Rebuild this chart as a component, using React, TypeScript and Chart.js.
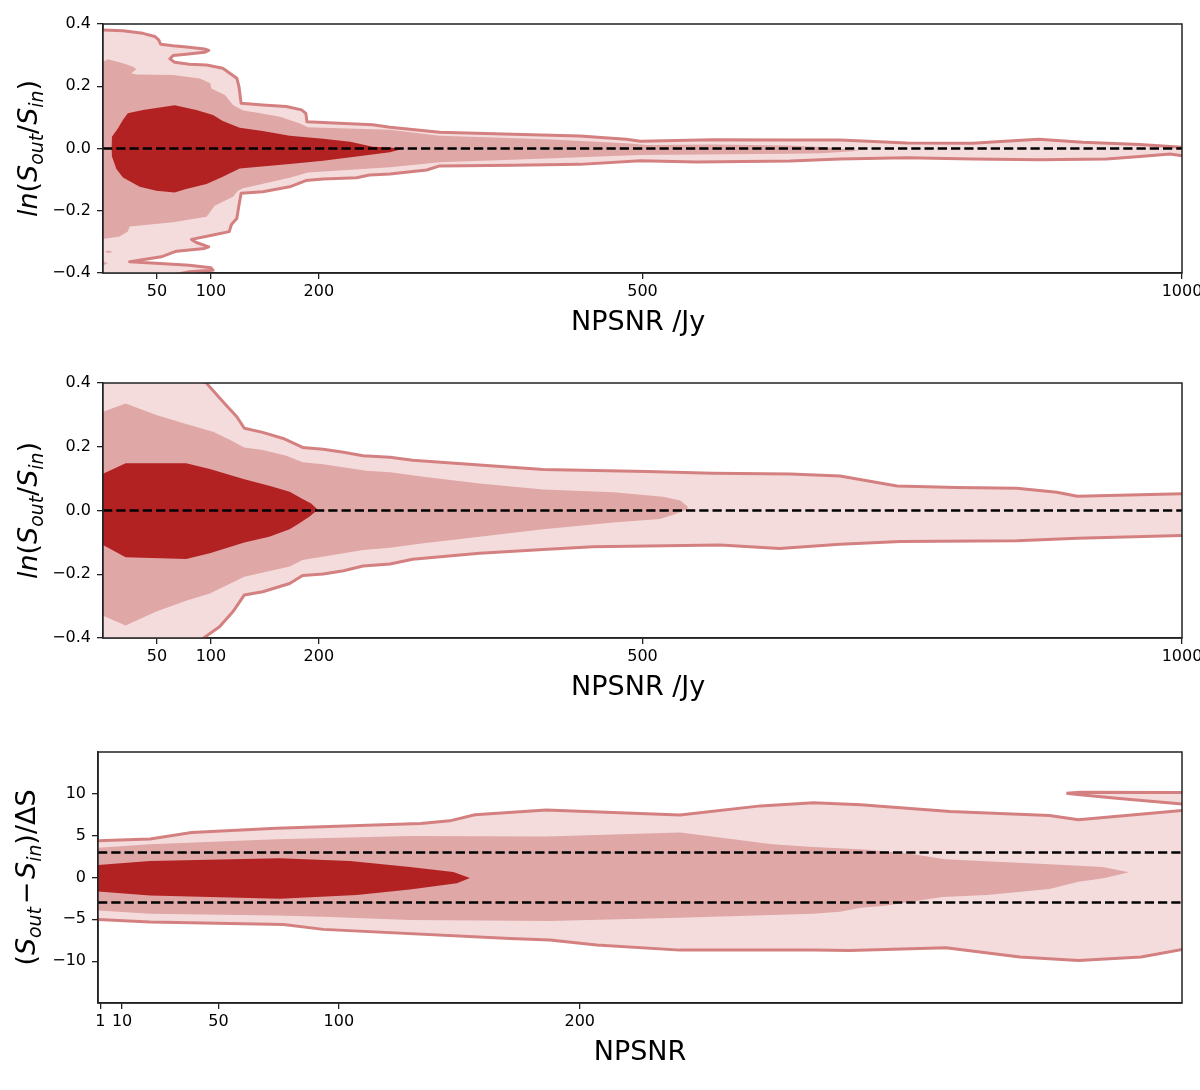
import { useEffect, useRef } from 'react';
import Chart from 'chart.js/auto';

type Pt = [number, number];
type Run = { t: string; sub?: boolean; upright?: boolean };

const FONT = '"DejaVu Sans"';
const PALE = '#f4dcdd';
const MID = '#e0a7a7';
const DARK = '#b22222';
const EDGE = '#d48080';

// top panel, ln(Sout/Sin) vs NPSNR /Jy
const topOuter: Pt[] = [
  [-3, 0.381], [18.5, 0.378], [37, 0.37], [48, 0.36], [51.6, 0.349], [53.4, 0.335], [65, 0.33], [80, 0.325],
  [94, 0.32], [98, 0.315], [94, 0.309], [77, 0.303], [65, 0.299], [62, 0.288], [66.4, 0.277], [80, 0.271],
  [96, 0.268], [111, 0.258], [124, 0.226], [126, 0.199], [128, 0.145], [148, 0.14], [170, 0.135], [184, 0.124],
  [188, 0.113], [189, 0.086], [219, 0.081], [250, 0.076], [266, 0.068], [312, 0.052], [380, 0.046], [442, 0.04],
  [485, 0.03], [498, 0.023], [565, 0.028], [637, 0.027], [683, 0.027], [745, 0.018], [806, 0.017], [828, 0.022],
  [867, 0.03], [908, 0.02], [961, 0.013], [1004, 0.003], [1004, -0.025], [989, -0.018], [961, -0.026], [930, -0.034],
  [868, -0.036], [806, -0.034], [745, -0.03], [683, -0.034], [637, -0.04], [550, -0.043], [498, -0.039], [442, -0.051],
  [380, -0.054], [312, -0.056], [300, -0.069], [266, -0.082], [247, -0.085], [235, -0.094], [204, -0.098], [188, -0.103],
  [173, -0.123], [148, -0.139], [128, -0.144], [126, -0.182], [124, -0.225], [119, -0.244], [117, -0.267], [102, -0.278],
  [82, -0.292], [86.5, -0.302], [98, -0.316], [94, -0.321], [68, -0.33], [54, -0.348], [24.7, -0.364], [49, -0.369],
  [80, -0.375], [100, -0.383], [102, -0.391], [80, -0.396], [60, -0.41], [-3, -0.41],
];
const topMid: Pt[] = [
  [0, 0.279], [4.6, 0.287], [18.5, 0.274], [27.8, 0.263], [31, 0.255], [26, 0.242], [31, 0.238], [65, 0.236],
  [89.6, 0.225], [99.5, 0.21], [100.4, 0.193], [113, 0.172], [120.5, 0.14], [130, 0.122], [142, 0.116], [164, 0.102],
  [182, 0.081], [190, 0.068], [219, 0.065], [266, 0.06], [312, 0.041], [411, 0.03], [485, 0.017], [504, 0.011],
  [565, 0.013], [637, 0.01], [667, 0.005], [701.5, -0.007], [667, -0.015], [637, -0.017], [498, -0.021], [411, -0.032],
  [312, -0.044], [266, -0.06], [190, -0.077], [173, -0.094], [130, -0.128], [125, -0.136], [120.5, -0.155],
  [103.5, -0.184], [96, -0.219], [65, -0.237], [24.7, -0.251], [23, -0.267], [15.4, -0.283], [0, -0.291],
];
const topSpeckA: Pt[] = [[1.5, -0.332], [5, -0.328], [9, -0.332], [5, -0.336]];
const topSpeckB: Pt[] = [[0, -0.362], [4.6, -0.369], [0, -0.376]];
const topDark: Pt[] = [
  [8.3, 0.038], [13.9, 0.065], [18.5, 0.092], [23, 0.113], [37, 0.124], [66.4, 0.139], [86.5, 0.124], [102, 0.108],
  [111, 0.088], [126.7, 0.067], [148, 0.056], [173, 0.041], [204, 0.031], [229, 0.022], [250, 0.006], [266, 0.003],
  [277, -0.002], [266, -0.012], [235, -0.026], [204, -0.039], [173, -0.05], [126.7, -0.064], [111, -0.091], [96, -0.114],
  [77, -0.13], [66.4, -0.141], [49.4, -0.136], [34, -0.123], [18.5, -0.093], [12.4, -0.066], [8.3, -0.026], [8, 0],
];

// middle panel
const midOuter: Pt[] = [
  [-3, 0.45], [82, 0.45], [96, 0.399], [111, 0.342], [124, 0.294], [131, 0.258], [148, 0.245], [167, 0.226], [185, 0.198],
  [204, 0.192], [223, 0.183], [241, 0.172], [266, 0.167], [287, 0.158], [349, 0.143], [408, 0.129], [504, 0.122],
  [565, 0.117], [637, 0.1145], [683, 0.108], [736, 0.077], [791, 0.072], [847, 0.07], [884, 0.057], [903, 0.045],
  [1004, 0.053], [1004, -0.078], [903, -0.087], [847, -0.095], [739, -0.097], [683, -0.106], [627, -0.119], [572, -0.108],
  [454, -0.114], [408, -0.122], [349, -0.134], [287, -0.153], [266, -0.168], [241, -0.174], [223, -0.189], [204, -0.199],
  [185, -0.204], [173, -0.229], [148, -0.255], [131, -0.265], [120.5, -0.317], [108, -0.365], [94, -0.398], [82, -0.45], [-3, -0.45],
];
const midMid: Pt[] = [
  [0, 0.31], [21, 0.336], [49.4, 0.3], [77, 0.271], [102, 0.247], [117, 0.223], [131, 0.198], [148, 0.19], [170, 0.172],
  [185, 0.151], [204, 0.145], [244, 0.125], [266, 0.12], [297, 0.106], [349, 0.085], [408, 0.066], [473, 0.057], [519, 0.043],
  [535, 0.031], [542, 0.012], [541, 0.002], [528, -0.014], [516, -0.027], [473, -0.038], [408, -0.059], [349, -0.082],
  [297, -0.103], [266, -0.117], [241, -0.124], [185, -0.155], [173, -0.176], [131, -0.208], [99, -0.26], [77, -0.283],
  [49.4, -0.317], [21, -0.361], [0, -0.33],
];
const midDark: Pt[] = [
  [0, 0.115], [21, 0.148], [77, 0.148], [99, 0.13], [131, 0.098], [154, 0.078], [173, 0.059], [185, 0.036], [193, 0.022],
  [199, 0.002], [191.5, -0.019], [182, -0.04], [173, -0.059], [154, -0.082], [131, -0.1], [99, -0.134], [77, -0.152],
  [21, -0.147], [0, -0.108],
];

// bottom panel, (Sout - Sin)/dS vs NPSNR
const lowOuter: Pt[] = [
  [-2, 4.37], [21.6, 4.61], [38.9, 5.37], [74, 5.89], [134, 6.45], [146, 6.77], [156.5, 7.49], [186, 8.08], [241.6, 7.48],
  [275, 8.56], [297, 8.92], [316.6, 8.7], [353.7, 7.88], [395, 7.4], [407, 6.89], [452, 8.06], [452, -8.5], [433, -9.5],
  [407, -9.92], [382.7, -9.5], [352, -8.4], [312, -8.72], [297, -8.68], [241.6, -8.68], [207, -8.08], [187.6, -7.48],
  [171, -7.29], [93.5, -6.2], [77, -5.61], [21.6, -5.33], [-2, -5],
];
const lowIsland: Pt[] = [
  [402, 10.08], [407.7, 10.2], [452, 10.16], [452, 8.72], [422.8, 9.48], [407.7, 9.88], [402, 10.08],
];
const lowMid: Pt[] = [
  [0, 3.57], [21.6, 3.97], [74, 4.57], [129.5, 4.97], [186, 4.89], [241.6, 5.37], [280, 3.97], [297, 3.65], [316.6, 3.37],
  [322, 3.25], [338.5, 2.77], [351.6, 2.18], [395, 1.58], [417, 1.26], [428, 0.62], [417.5, -0.1], [407, -0.5], [395, -1.38],
  [369, -2.1], [350.6, -2.33], [326, -3.41], [316.6, -3.61], [308, -4.09], [297, -4.33], [241.6, -4.81], [187.6, -5.21],
  [129.5, -5.09], [93.5, -4.69], [74, -4.53], [21.6, -4.33], [0, -3.93],
];
const lowDark: Pt[] = [
  [0, 1.5], [21.6, 1.98], [75.5, 2.3], [104.6, 1.98], [129.5, 1.26], [147.5, 0.66], [154.4, -0.06], [149, -0.7],
  [129.5, -1.42], [107.4, -2.1], [75.5, -2.53], [21.6, -2.14], [0, -1.66],
];

const jyTicks = [50, 100, 200, 500, 1000];
const snrTicks = [1, 10, 50, 100, 200];
const ratioTicks = [-0.4, -0.2, 0, 0.2, 0.4];
const sigmaTicks = [-10, -5, 0, 5, 10];
const zeroLine: Pt[] = [[0, 0], [1000, 0]];
const plusThree: Pt[] = [[0, 3], [450, 3]];
const minusThree: Pt[] = [[0, -3], [450, -3]];

const ratioTitle: Run[] = [
  { t: 'ln' }, { t: '(', upright: true }, { t: 'S' }, { t: 'out', sub: true }, { t: '/', upright: true },
  { t: 'S' }, { t: 'in', sub: true }, { t: ')', upright: true },
];
const sigmaTitle: Run[] = [
  { t: '(', upright: true }, { t: 'S' }, { t: 'out', sub: true }, { t: '\u200a−\u200a', upright: true }, { t: 'S' },
  { t: 'in', sub: true }, { t: ')/ΔS', upright: true },
];

// contours are closed shapes that can fold back in x, so the filler plugin can't do them
const polygonFill = {
  id: 'polygonFill',
  beforeDatasetDraw(chart: any, args: any) {
    const ds = chart.data.datasets[args.index];
    if (!ds.polygon) return;
    const { ctx, chartArea: a } = chart;
    ctx.save();
    ctx.beginPath();
    ctx.rect(a.left, a.top, a.right - a.left, a.bottom - a.top);
    ctx.clip();
    ctx.beginPath();
    args.meta.data.forEach((p: any, i: number) => (i ? ctx.lineTo(p.x, p.y) : ctx.moveTo(p.x, p.y)));
    ctx.closePath();
    ctx.fillStyle = ds.polygon;
    ctx.fill();
    ctx.restore();
  },
};

const frame = {
  id: 'frame',
  afterDatasetsDraw(chart: any) {
    const { ctx, chartArea: a } = chart;
    ctx.save();
    ctx.strokeStyle = '#222';
    ctx.lineWidth = 1.5;
    ctx.strokeRect(a.left, a.top, a.right - a.left, a.bottom - a.top);
    ctx.restore();
  },
};

// rotated y title with subscripts, the scale title can't do mathtext
function richTitle(runs: Run[], baseX: number, centerY: number, size: number) {
  return {
    id: 'richTitle',
    afterDraw(chart: any) {
      const { ctx } = chart;
      const fontOf = (r: Run) =>
        `${r.upright ? '' : 'italic '}${r.sub ? size * 0.7 : size}px ${FONT}`;
      ctx.save();
      ctx.textBaseline = 'alphabetic';
      ctx.textAlign = 'left';
      ctx.fillStyle = '#000';
      let total = 0;
      for (const r of runs) {
        ctx.font = fontOf(r);
        total += ctx.measureText(r.t).width;
      }
      ctx.translate(baseX, centerY);
      ctx.rotate(-Math.PI / 2);
      let x = -total / 2;
      for (const r of runs) {
        ctx.font = fontOf(r);
        ctx.fillText(r.t, x, r.sub ? size * 0.24 : 0);
        x += ctx.measureText(r.t).width;
      }
      ctx.restore();
    },
  };
}

const shape = (data: Pt[], color: string) => ({
  data: data.map(([x, y]) => ({ x, y })),
  polygon: color,
  showLine: false,
  pointRadius: 0,
  clip: 0,
});
const outline = (data: Pt[], color: string) => ({
  ...shape(data, color),
  showLine: true,
  borderColor: EDGE,
  borderWidth: 3,
  borderJoinStyle: 'round',
});
const dashed = (data: Pt[]) => ({
  data: data.map(([x, y]) => ({ x, y })),
  showLine: true,
  borderColor: '#000',
  borderWidth: 2.5,
  borderDash: [9.25, 4],
  pointRadius: 0,
  clip: 0,
});

type PanelProps = {
  top: number;
  height: number;
  areaTop: number;
  areaBottom: number;
  left: number;
  xMax: number;
  xTicks: number[];
  xTitle: string;
  yMax: number;
  yTicks: number[];
  yDigits: number;
  yTitle: Run[];
  yTitleBase: number;
  datasets: any[];
};

function Panel(p: PanelProps) {
  const canvasRef = useRef<HTMLCanvasElement>(null);

  useEffect(() => {
    if (!canvasRef.current) return;
    const tickStyle = { color: '#000', font: { family: FONT, size: 16 }, maxRotation: 0, autoSkip: false };
    const gridStyle = { drawOnChartArea: false, color: '#222', lineWidth: 1.3, tickLength: 6 };
    const chart = new Chart(canvasRef.current, {
      type: 'scatter',
      data: { datasets: p.datasets },
      plugins: [
        polygonFill,
        frame,
        richTitle(p.yTitle, p.yTitleBase, (p.areaTop + p.areaBottom) / 2, 27),
      ],
      options: {
        animation: false,
        responsive: false,
        layout: {
          autoPadding: false,
          padding: { top: p.areaTop, right: 18, left: 0, bottom: 0 },
        },
        plugins: { legend: { display: false }, tooltip: { enabled: false } },
        scales: {
          x: {
            type: 'linear',
            min: 0,
            max: p.xMax,
            grid: gridStyle,
            border: { color: '#222', width: 1.5 },
            ticks: { ...tickStyle, padding: 3, callback: (v: any) => String(v) },
            title: {
              display: true,
              text: p.xTitle,
              color: '#000',
              padding: 0,
              font: { family: FONT, size: 27 },
            },
            afterBuildTicks: (s: any) => {
              s.ticks = p.xTicks.map((value) => ({ value }));
            },
            afterFit: (s: any) => {
              s.height = p.height - p.areaBottom;
              // the 1000 label must not pull the axis end in
              s.paddingRight = 0;
              s.paddingLeft = 0;
            },
          },
          y: {
            type: 'linear',
            min: -p.yMax,
            max: p.yMax,
            grid: gridStyle,
            border: { color: '#222', width: 1.5 },
            ticks: {
              ...tickStyle,
              padding: 6,
              callback: (v: any) => Number(v).toFixed(p.yDigits).replace('-', '−'),
            },
            afterBuildTicks: (s: any) => {
              s.ticks = p.yTicks.map((value) => ({ value }));
            },
            afterFit: (s: any) => {
              s.width = p.left;
              s.paddingTop = 0;
              s.paddingBottom = 0;
            },
          },
        },
      },
    } as any);
    return () => chart.destroy();
  }, []);

  return (
    <canvas
      ref={canvasRef}
      width={1200}
      height={p.height}
      style={{ position: 'absolute', left: 0, top: p.top, width: 1200, height: p.height }}
    />
  );
}

export default function App() {
  // first dataset ends up on top, chart.js draws them last to first
  const topSets = [
    dashed(zeroLine),
    shape(topDark, DARK),
    shape(topSpeckA, MID),
    shape(topSpeckB, MID),
    shape(topMid, MID),
    outline(topOuter, PALE),
  ];
  const midSets = [dashed(zeroLine), shape(midDark, DARK), shape(midMid, MID), outline(midOuter, PALE)];
  const lowSets = [
    dashed(plusThree),
    dashed(minusThree),
    shape(lowDark, DARK),
    shape(lowMid, MID),
    outline(lowIsland, PALE),
    outline(lowOuter, PALE),
  ];

  // trailing space nudges the centred title left, it sits a little off centre in the original
  return (
    <div style={{ position: 'absolute', left: 0, top: 0, width: 1200, height: 1090, background: '#fff', overflow: 'hidden' }}>
      <Panel
        top={0}
        height={339}
        areaTop={24}
        areaBottom={273}
        left={103}
        xMax={1000}
        xTicks={jyTicks}
        xTitle="NPSNR /Jy "
        yMax={0.4}
        yTicks={ratioTicks}
        yDigits={1}
        yTitle={ratioTitle}
        yTitleBase={37}
        datasets={topSets}
      />
      <Panel
        top={350}
        height={354}
        areaTop={33}
        areaBottom={288}
        left={103}
        xMax={1000}
        xTicks={jyTicks}
        xTitle="NPSNR /Jy "
        yMax={0.4}
        yTicks={ratioTicks}
        yDigits={1}
        yTitle={ratioTitle}
        yTitleBase={37}
        datasets={midSets}
      />
      <Panel
        top={710}
        height={359}
        areaTop={42}
        areaBottom={293}
        left={98}
        xMax={450}
        xTicks={snrTicks}
        xTitle="NPSNR"
        yMax={15}
        yTicks={sigmaTicks}
        yDigits={0}
        yTitle={sigmaTitle}
        yTitleBase={35}
        datasets={lowSets}
      />
    </div>
  );
}
